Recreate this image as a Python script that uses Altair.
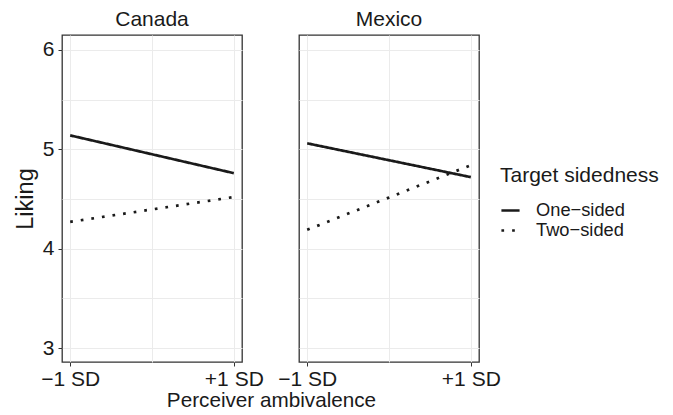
import altair as alt
import pandas as pd

# ---- data ----
countries = ["Canada", "Mexico"]
ambivalence = [-1, 1]
x_tick_labels = ["−1 SD", "+1 SD"]
sidedness = ["One−sided", "Two−sided"]
canada_one_sided = [5.14, 4.76]
canada_two_sided = [4.27, 4.52]
mexico_one_sided = [5.06, 4.72]
mexico_two_sided = [4.19, 4.84]

series = {
    ("Canada", sidedness[0]): canada_one_sided,
    ("Canada", sidedness[1]): canada_two_sided,
    ("Mexico", sidedness[0]): mexico_one_sided,
    ("Mexico", sidedness[1]): mexico_two_sided,
}
rows = []
for (country, side), vals in series.items():
    for a, v in zip(ambivalence, vals):
        rows.append({"country": country, "sidedness": side, "ambivalence": a, "liking": v})
df = pd.DataFrame(rows)

FONT = "Liberation Sans"
INK = "#1a1a1a"
GRID = "#ebebeb"
BORDER = "#333333"

x_label_expr = (
    f"datum.value == -1 ? '{x_tick_labels[0]}' : datum.value == 1 ? '{x_tick_labels[1]}' : ''"
)
y_label_expr = "datum.value % 1 == 0 ? format(datum.value, 'd') : ''"


def panel(country, first):
    x_axis = alt.Axis(
        values=[-1, 0, 1],
        labelExpr=x_label_expr,
        tickOpacity={"condition": {"test": "datum.value != 0", "value": 1}, "value": 0},
        tickSize=4,
        tickColor=BORDER,
        labelPadding=2,
        labelFontSize=21,
        labelColor=INK,
        labelFont=FONT,
        grid=True,
        gridColor=GRID,
        domain=False,
        labelFlush=False,
        title="Perceiver ambivalence" if first else None,
        titleFontSize=20.7,
        titleFont=FONT,
        titleColor=INK,
        titleFontWeight="normal",
        titleX=209,
        titlePadding=1,
    )
    if first:
        y_axis = alt.Axis(
            values=[3, 3.5, 4, 4.5, 5, 5.5, 6],
            labelExpr=y_label_expr,
            tickOpacity={"condition": {"test": "datum.value % 1 == 0", "value": 1}, "value": 0},
            tickSize=4,
            tickColor=BORDER,
            labelPadding=4,
            labelFontSize=21,
            labelColor=INK,
            labelFont=FONT,
            grid=True,
            gridColor=GRID,
            domain=False,
            title="Liking",
            titleFontSize=23.5,
            titleFont=FONT,
            titleColor=INK,
            titleFontWeight="normal",
            titlePadding=5,
        )
    else:
        y_axis = alt.Axis(
            values=[3, 3.5, 4, 4.5, 5, 5.5, 6],
            labels=False,
            ticks=False,
            grid=True,
            gridColor=GRID,
            domain=False,
            title=None,
        )
    return (
        alt.Chart(df[df["country"] == country])
        .mark_line(color=INK, strokeWidth=2.7, strokeCap="butt")
        .encode(
            x=alt.X(
                "ambivalence:Q",
                scale=alt.Scale(domain=[-1.1, 1.1], nice=False, zero=False),
                axis=x_axis,
            ),
            y=alt.Y(
                "liking:Q",
                scale=alt.Scale(domain=[2.86, 6.15], nice=False, zero=False),
                axis=y_axis,
            ),
            strokeDash=alt.StrokeDash(
                "sidedness:N",
                scale=alt.Scale(domain=sidedness, range=[[1, 0], [2.7, 8]]),
                legend=alt.Legend(
                    title="Target sidedness",
                    orient="none",
                    legendX=438,
                    legendY=130,
                    symbolType="stroke",
                    symbolStrokeWidth=2.7,
                    symbolStrokeColor=INK,
                    symbolSize=330,
                    titleFontSize=21,
                    titleFont=FONT,
                    titleColor=INK,
                    titleFontWeight="normal",
                    titlePadding=14,
                    labelFontSize=18.3,
                    labelFont=FONT,
                    labelColor=INK,
                    labelOffset=15,
                    rowPadding=1,
                ),
            ),
        )
        .properties(
            width=180,
            height=327,
            view=alt.ViewBackground(stroke=BORDER, strokeWidth=1.3, fill="white"),
            title=alt.TitleParams(
                country,
                fontSize=21,
                font=FONT,
                color=INK,
                fontWeight="normal",
                anchor="middle",
                offset=5,
            ),
        )
    )


chart = (
    alt.hconcat(panel("Canada", True), panel("Mexico", False), spacing=57, bounds="flush")
    .properties(padding={"left": 4, "top": 0, "right": 0, "bottom": -2})
    .configure_view(stroke=BORDER, strokeWidth=1.3)
    .configure_axis(gridWidth=1, zindex=0)
    .configure(background="white")
)

chart.save("out.html", embed_options={"renderer": "svg", "actions": False})
